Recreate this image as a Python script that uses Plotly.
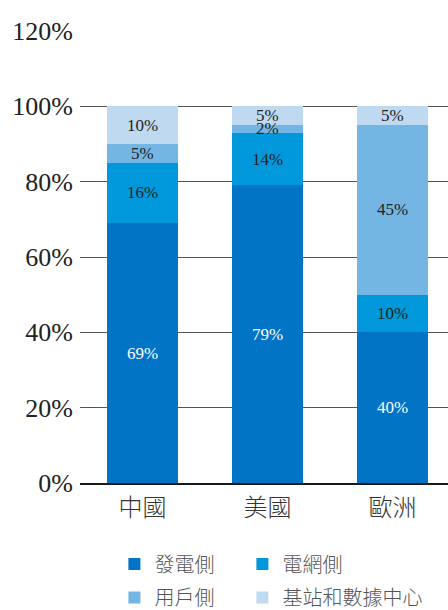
import plotly.graph_objects as go

categories = ["中國", "美國", "歐洲"]
series_names = ["發電側", "電網側", "用戶側", "基站和數據中心"]
gen_side = [69, 79, 40]
grid_side = [16, 14, 10]
user_side = [5, 2, 45]
station_dc = [10, 5, 5]
y_ticks = [0, 20, 40, 60, 80, 100, 120]
y_tick_labels = [f"{t}%" for t in y_ticks]

series_values = [gen_side, grid_side, user_side, station_dc]
colors = ["#0174C6", "#0098DA", "#73B5E3", "#BFDAF0"]
label_colors = ["#FFFFFF", "#222222", "#222222", "#222222"]
legend_ids = ["legend", "legend2", "legend3", "legend4"]

SERIF = "Liberation Serif"
CJK = "Noto Sans CJK TC"

fig = go.Figure()
for name, vals, col, lid in zip(series_names, series_values, colors, legend_ids):
    fig.add_trace(go.Bar(
        x=categories, y=vals, name=name,
        marker=dict(color=col, line=dict(width=0)),
        legend=lid, hoverinfo="skip",
    ))

# data labels at the centre of each stacked segment
annotations = []
for i, cat in enumerate(categories):
    base = 0
    for vals, lc in zip(series_values, label_colors):
        v = vals[i]
        annotations.append(dict(
            x=cat, y=base + v / 2, xref="x", yref="y",
            text=f"{v}%", showarrow=False,
            font=dict(family=SERIF, size=17, color=lc),
        ))
        base += v

legend_common = dict(
    orientation="h", xanchor="left", yanchor="middle",
    font=dict(family=CJK, size=20, color="#555555", weight=300),
    bgcolor="rgba(0,0,0,0)",
)
col_x = [0.0935, 0.4413]
row_y = [-0.179, -0.2535]

fig.update_layout(
    width=448, height=610,
    margin=dict(l=80, r=0, t=31, b=127, autoexpand=False),
    barmode="stack", bargap=0.432,
    plot_bgcolor="white", paper_bgcolor="white",
    annotations=annotations,
    xaxis=dict(
        range=[-0.5, 2.444], showgrid=False, showline=True,
        linecolor="#1a1a1a", linewidth=2, ticks="",
        tickfont=dict(family=CJK, size=24, color="#333333", weight=300),
        ticklabelstandoff=2, automargin=False,
    ),
    yaxis=dict(
        range=[0, 120], tickmode="array", tickvals=y_ticks, ticktext=y_tick_labels,
        showgrid=True, gridcolor="#555555", gridwidth=1,
        zeroline=False, showline=False, ticks="",
        tickfont=dict(family=SERIF, size=26, color="#222222"),
        ticklabelstandoff=6, automargin=False,
    ),
    legend=dict(legend_common, x=col_x[0], y=row_y[0]),
    legend2=dict(legend_common, x=col_x[1], y=row_y[0]),
    legend3=dict(legend_common, x=col_x[0], y=row_y[1]),
    legend4=dict(legend_common, x=col_x[1], y=row_y[1]),
    showlegend=True,
)

fig.write_html("out.html")
